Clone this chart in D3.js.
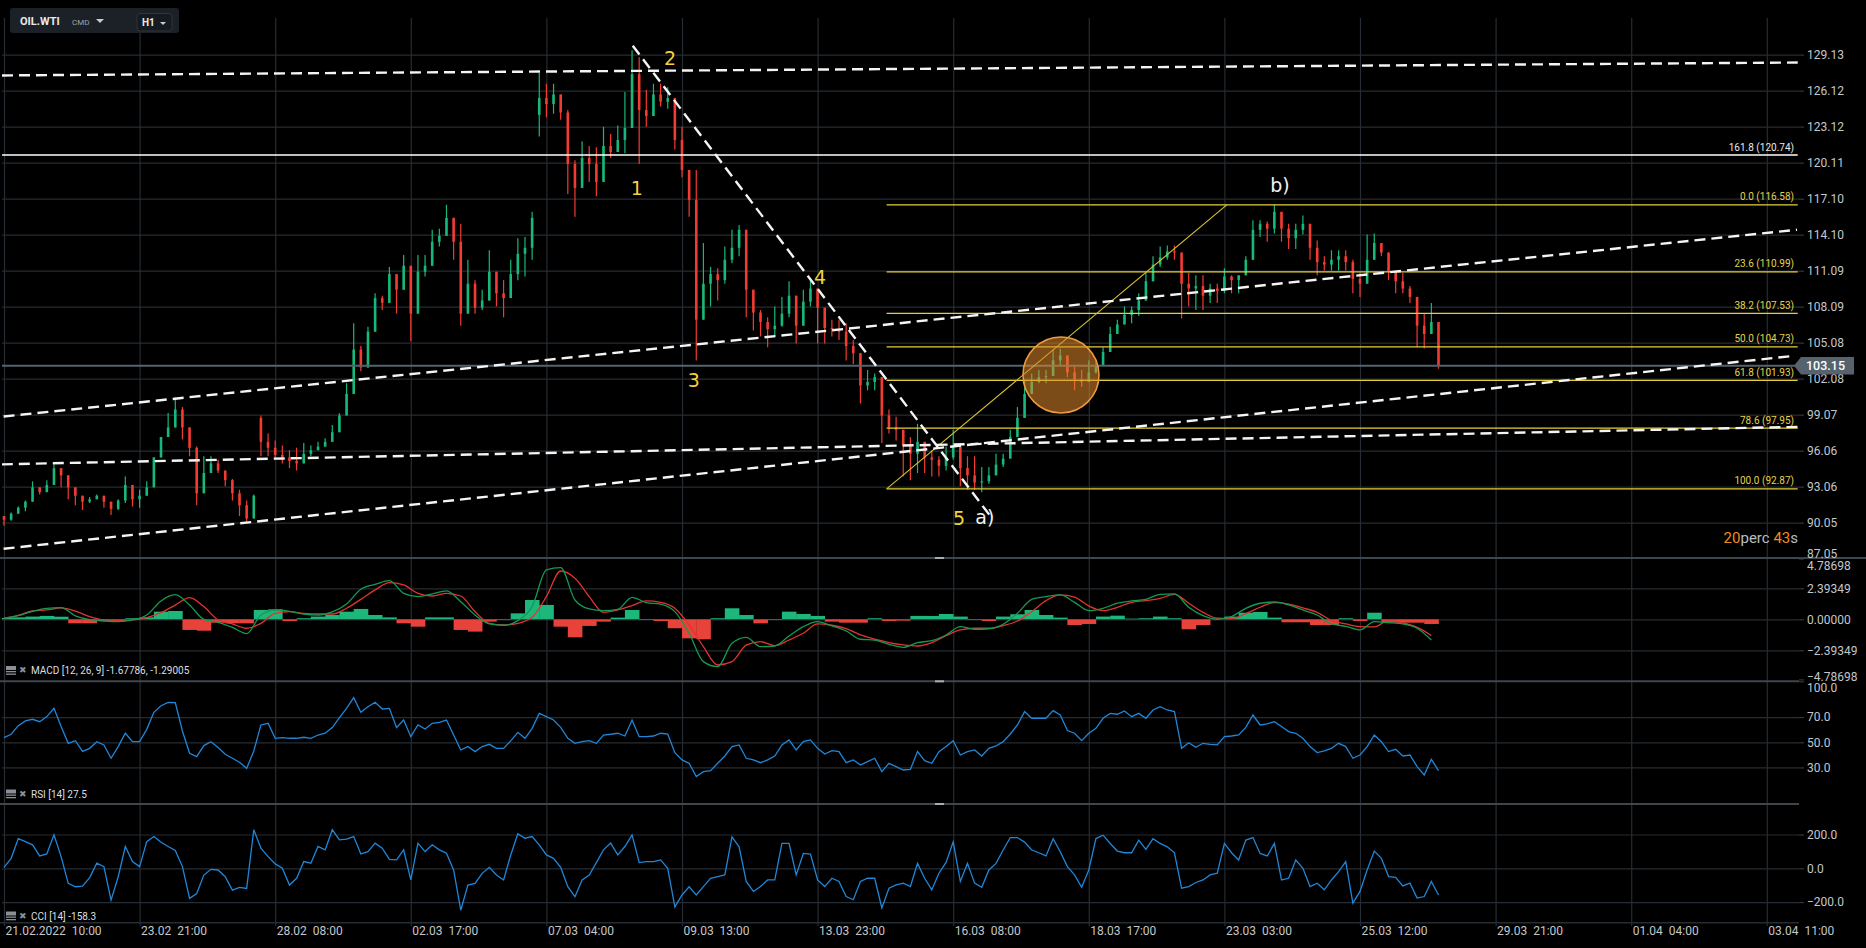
<!DOCTYPE html>
<html><head><meta charset="utf-8">
<script src="https://cdn.jsdelivr.net/npm/d3@7"></script>
<style>
html,body{margin:0;padding:0;background:#000;overflow:hidden}
svg{display:block}
text{font-family:Roboto,"Liberation Sans",sans-serif}
</style></head><body>
<svg id="c" width="1866" height="948"></svg>
<script>
// ---------------- DATA ----------------
const timeLabels = ["21.02.2022  10:00","23.02  21:00","28.02  08:00","02.03  17:00","07.03  04:00","09.03  13:00","13.03  23:00","16.03  08:00","18.03  17:00","23.03  03:00","25.03  12:00","29.03  21:00","01.04  04:00","03.04  11:00"];
const barsPerLabel = 57;
const barsPerCandle = 3;
const barsPerMacd = 6;

const firstOpen = 90.6;
const gapOpens = [[36,98.8],[75,124.1]];
const closes = [
 90.3,90.8,91.3,91.8,93.0,92.6,93.2,94.6,94.0,93.0,
 92.3,91.8,92.0,92.3,91.8,91.2,91.9,93.2,92.0,92.3,
 93.0,95.5,97.2,98.0,99.5,98.0,96.3,92.5,94.2,95.0,
 94.4,93.6,92.5,91.5,90.4,92.3,96.8,96.3,95.7,95.5,
 95.2,95.0,95.8,96.1,96.4,96.8,97.6,99.0,100.8,104.5,
 103.0,106.0,108.8,108.4,110.8,109.5,111.5,107.5,111.0,111.5,
 113.5,114.0,115.5,113.5,107.5,110.0,108.0,108.6,111.0,109.2,
 108.8,110.8,112.5,113.0,115.5,125.5,125.0,125.8,124.3,120.0,
 118.0,120.5,120.0,118.5,121.5,121.0,122.0,123.0,127.5,124.5,
 124.0,125.8,125.2,125.5,122.0,119.5,117.0,107.0,110.0,110.8,
 110.3,112.0,113.0,114.5,109.5,107.6,106.8,106.2,106.5,107.5,
 109.0,106.5,108.5,109.6,108.0,106.3,106.2,106.0,104.8,104.2,
 101.5,101.8,102.2,99.0,98.0,97.8,96.5,95.8,96.8,95.5,
 95.3,94.8,95.5,96.4,94.6,94.0,93.4,93.5,94.0,94.9,
 95.4,97.2,98.8,100.8,101.8,102.2,102.3,103.6,104.0,102.6,
 102.0,101.8,102.6,103.2,104.3,105.8,106.6,107.4,107.8,108.6,
 110.2,111.6,112.2,112.7,112.6,110.0,109.6,109.8,109.0,109.6,
 109.4,110.6,110.3,110.7,112.0,114.5,115.0,114.6,116.0,114.6,
 113.8,114.5,115.0,113.0,111.8,111.6,112.0,112.3,111.8,110.4,
 110.0,112.0,113.4,112.6,111.0,110.2,109.6,108.9,106.5,105.8,
 106.8,103.15];
const highs = [
 90.6,90.9,91.4,91.9,93.5,93.0,93.6,94.9,94.3,93.5,
 92.8,92.0,92.2,92.4,92.1,91.7,92.0,93.9,92.5,92.8,
 93.5,95.5,97.2,99.2,100.5,99.7,97.0,96.4,95.6,95.6,
 95.3,94.4,93.7,92.8,91.9,92.4,99.0,97.5,96.9,96.5,
 96.1,96.3,96.7,96.5,96.8,97.1,98.2,99.2,101.7,106.7,
 104.8,106.4,109.2,109.0,111.4,110.6,112.4,110.3,112.4,112.4,
 114.5,114.6,116.6,114.2,115.0,112.0,110.3,109.5,112.8,110.6,
 110.3,112.0,113.8,113.9,116.0,127.6,126.7,126.7,125.8,124.5,
 120.3,121.9,121.5,121.4,123.1,122.5,123.2,126.0,129.5,128.9,
 126.2,126.7,126.7,126.4,125.1,123.1,119.5,119.5,113.4,111.4,
 111.3,113.1,114.5,114.9,111.3,109.5,107.8,107.2,108.1,108.9,
 110.2,107.8,109.5,110.3,109.5,107.2,107.0,107.0,106.7,105.3,
 103.1,102.8,102.5,101.4,99.5,98.9,97.8,97.2,98.3,96.1,
 96.1,95.6,96.4,97.8,96.7,95.6,95.6,94.7,94.7,95.8,
 95.8,97.8,99.7,102.0,102.5,102.8,102.8,104.5,104.6,103.6,
 103.1,102.8,103.6,103.6,104.7,106.4,107.0,108.1,108.1,109.2,
 110.9,112.3,113.1,113.2,113.2,111.4,110.9,110.7,110.7,110.0,
 110.0,111.3,110.7,110.7,112.3,115.3,115.3,115.2,116.6,115.2,
 115.0,115.0,115.7,114.5,113.6,112.3,112.8,112.8,112.8,112.0,
 110.9,114.1,114.2,113.1,112.0,110.9,110.9,109.8,108.4,107.5,
 108.4,105.0];
const lows = [
 89.8,90.2,90.8,91.0,92.2,92.4,92.8,93.5,93.0,92.0,
 91.5,91.1,91.7,92.0,91.3,90.7,91.1,91.7,91.4,91.3,
 92.6,94.2,96.1,98.1,98.6,97.0,95.6,91.5,93.6,94.4,
 94.2,93.1,91.9,90.6,90.0,90.6,95.6,95.6,95.3,95.0,
 94.6,94.4,95.6,95.6,96.1,96.4,97.1,98.1,99.5,103.1,
 102.7,105.3,107.5,107.8,109.8,107.5,110.3,105.2,110.0,110.6,
 112.0,113.1,114.2,112.0,106.5,109.5,107.5,107.8,109.2,108.1,
 107.2,109.5,110.3,110.6,112.0,122.3,123.9,124.2,123.7,117.5,
 115.6,118.7,118.5,117.3,120.3,120.5,121.0,120.9,125.6,120.0,
 123.1,124.4,124.8,124.6,121.2,118.9,115.6,103.6,107.2,108.1,
 108.6,110.0,111.7,112.3,107.2,106.1,105.6,104.7,105.6,106.4,
 107.2,105.0,106.7,108.1,105.0,105.0,105.6,105.3,103.6,103.3,
 100.0,101.1,101.1,96.7,97.5,96.9,93.9,93.6,94.2,94.2,
 93.9,93.9,94.4,95.3,93.1,92.8,92.8,92.6,93.3,94.4,
 94.7,96.4,97.5,99.5,100.8,101.7,101.7,102.5,103.1,102.2,
 101.1,101.4,102.2,102.5,103.3,105.3,106.1,106.7,106.7,107.3,
 109.2,110.9,111.4,112.0,112.0,107.1,108.1,107.8,107.8,108.4,
 108.4,109.2,109.2,109.2,110.9,112.8,113.9,113.5,114.2,113.5,
 112.9,112.9,114.1,112.0,110.7,111.1,111.1,111.1,111.1,109.2,
 108.9,110.9,112.3,112.3,110.3,109.2,109.2,108.4,104.7,104.6,
 105.8,102.9];

const macdLine = [
 0.08,0.28,0.62,0.85,0.9,0.26,-0.03,-0.13,-0.18,-0.05,
 0.33,1.42,1.9,1.1,0,-0.23,-0.62,-1.1,0.33,0.72,
 0.62,0.41,0.33,0.57,1.18,2.32,2.7,2.99,2.0,1.75,
 1.96,2.19,1.36,0.33,-0.36,-0.46,-0.1,0.98,3.81,3.99,
 1.49,0.8,0.67,0.77,1.7,1.29,1.18,0.59,-1.08,-3.27,
 -3.66,-1.85,-1.39,-2.11,-2.06,-1.29,-0.57,-0.18,-0.51,-0.9,
 -1.54,-1.6,-1.93,-2.16,-1.8,-1.65,-1.21,-0.57,-0.77,-0.73,
 -0.38,0.46,1.54,1.75,1.88,1.31,0.67,0.85,1.24,1.42,
 1.54,1.93,1.96,0.93,0.28,0,0.21,0.85,1.24,1.34,
 1.11,0.72,0.33,-0.36,-0.54,-0.82,-0.18,-0.26,-0.36,-0.69,
 -1.6];
const signalLine = [
 0.08,0.31,0.64,0.72,0.88,0.64,0.21,-0.05,-0.1,-0.05,
 0.13,0.51,1.1,1.67,0.98,-0.05,-0.36,-0.69,-0.31,0.46,
 0.59,0.46,0.41,0.41,0.85,1.54,2.27,2.83,2.65,2.0,
 1.8,2.0,1.8,0.59,-0.31,-0.44,-0.31,0.15,1.75,3.73,
 3.17,1.75,0.54,0.72,1.06,1.42,1.31,0.85,-0.44,-2.11,
 -3.53,-3.27,-2.0,-1.72,-2.03,-1.6,-1.08,-0.36,-0.46,-0.72,
 -1.21,-1.54,-1.8,-1.98,-2.06,-1.8,-1.26,-0.82,-0.69,-0.69,
 -0.49,-0.13,0.59,1.44,1.88,1.72,1.03,0.67,0.93,1.31,
 1.44,1.62,1.93,1.24,0.54,0.08,0.05,0.44,0.93,1.29,
 1.18,0.88,0.54,-0.1,-0.36,-0.57,-0.59,-0.1,-0.28,-0.62,
 -1.25];
const macdHist = [
 0.1,0.15,0.21,0.26,0.2,-0.31,-0.31,-0.13,-0.13,0.08,
 0.15,0.59,0.64,-0.82,-0.88,-0.26,-0.31,-0.31,0.72,0.77,
 -0.13,0.08,0.21,0.33,0.59,0.8,0.33,0.15,-0.31,-0.57,
 0.15,0.15,-0.82,-0.95,-0.18,-0.05,0.46,1.49,1.11,-0.57,
 -1.39,-0.51,-0.18,0.13,0.72,-0.05,-0.13,-0.69,-1.47,-1.54,
 0.08,0.85,0.33,-0.31,-0.05,0.59,0.41,0.26,-0.18,-0.26,
 -0.26,0.08,-0.13,-0.1,0.26,0.26,0.41,0.21,-0.05,-0.13,
 0.21,0.39,0.72,0.33,0.13,-0.44,-0.36,0.21,0.28,0.05,
 0.08,0.21,0.08,-0.77,-0.44,0,0.21,0.51,0.57,0.13,
 -0.23,-0.23,-0.44,-0.44,0.08,-0.13,0.51,-0.26,-0.26,-0.26,
 -0.36];

const rsiValues = [
 53.7,56.4,63.2,67.0,68.3,66.4,70.4,77.0,62.5,49.2,
 51.3,42.8,45.2,50.5,47.9,37.3,46.6,57.2,50.5,50.5,
 60.3,73.8,79.1,81.8,81.5,59.0,41.3,38.6,47.4,50.5,
 45.8,40.5,37.3,34.1,29.3,43.1,63.8,65.1,53.2,53.7,
 53.2,53.2,54.0,53.2,55.8,57.2,61.7,69.6,77.0,85.5,
 73.8,78.3,81.8,76.5,77.0,61.7,67.7,54.5,63.8,60.6,
 65.1,65.9,67.7,55.8,43.9,46.6,42.6,46.6,48.4,45.2,
 45.2,51.1,57.9,53.2,61.1,73.0,70.4,67.7,61.9,53.2,
 49.2,50.5,51.3,49.2,55.8,56.4,57.2,55.0,67.7,54.5,
 54.5,55.0,57.2,56.6,41.8,36.0,33.3,22.7,26.7,27.5,
 33.3,39.1,46.6,47.9,37.3,36.0,33.8,36.0,39.1,47.9,
 51.9,43.9,50.5,51.9,45.2,40.7,43.4,42.6,33.8,36.0,
 32.0,34.6,37.3,26.7,33.3,30.7,28.0,28.5,42.6,35.4,
 33.3,42.6,46.6,51.3,39.9,42.6,43.9,39.1,45.2,47.1,
 50.5,56.6,63.8,74.4,69.1,69.1,69.1,75.2,71.7,59.3,
 57.2,51.3,57.2,61.1,69.1,73.0,72.3,74.9,70.4,73.0,
 69.1,75.7,78.3,75.7,74.4,45.2,49.7,46.0,49.2,48.4,
 47.9,54.5,55.0,55.8,61.9,71.7,63.8,64.6,66.4,62.5,
 58.5,57.2,53.2,46.6,41.8,43.1,45.2,49.2,46.6,37.3,
 39.9,46.6,55.8,50.5,42.6,44.4,39.1,39.9,30.7,24.0,
 36.5,27.5];

const cciValues = [
 6,59,176,158,139,73,85,198,69,-89,
 -109,-105,-55,30,10,-188,-50,129,40,10,
 158,188,154,129,105,10,-178,-149,-40,-6,
 -10,-50,-129,-113,-119,228,119,69,26,0,
 -99,-59,40,30,129,109,228,168,172,188,
 85,99,149,119,53,50,109,-69,149,99,
 139,109,89,-10,-248,-99,-89,-30,6,-40,
 -69,79,204,178,188,139,79,59,6,-109,
 -168,-69,-40,34,109,149,79,129,198,34,
 40,40,50,0,-228,-158,-109,-158,-108,-59,
 -49,-39,186,127,-78,-137,-108,-69,-69,147,
 147,-39,88,84,-69,-108,-59,-78,-167,-186,
 -78,-59,-59,-235,-118,-98,-88,-108,29,-59,
 -127,-29,35,157,-78,29,-88,-112,-10,29,
 108,182,182,155,108,92,73,175,98,10,
 -39,-112,-10,176,196,147,102,92,92,167,
 112,175,147,127,92,-118,-108,-84,-69,-39,
 -29,147,92,49,167,182,88,73,147,-69,
 -59,49,0,-108,-88,-127,-69,-20,39,-206,
 -137,-10,102,59,-49,-53,-104,-88,-176,-167,
 -78,-158.3];

const priceTicks = [129.13,126.12,123.12,120.11,117.10,114.10,111.09,108.09,105.08,102.08,99.07,96.06,93.06,90.05,87.05];
const macdTicks = [4.78698,2.39349,0,-2.39349,-4.78698];
const rsiTicks = [100,70,50,30];
const cciTicks = [200,0,-200];

const fibLevels = [[0.0,116.58],[23.6,110.99],[38.2,107.53],[50.0,104.73],[61.8,101.93],[78.6,97.95],[100.0,92.87]];
const fibExtension = [161.8,120.74];
const fibStartBar = 371;
const fibDiagonal = [[371,92.87],[514,116.58]];
const lastPrice = 103.15;
const trendLines = [
 [[-0.84,127.39],[754,128.47]],
 [[-0.17,98.91],[753.7,114.51]],
 [[-0.92,94.92],[754,98.05]],
 [[-0.17,87.87],[751.9,103.97]],
 [[264.3,129.87],[415.3,90.42]]
];
const waveLabels = [
 {t:"1",bar:266,p:117.97,kind:"wave"},
 {t:"2",bar:280,p:128.82,kind:"wave"},
 {t:"3",bar:290,p:101.96,kind:"wave"},
 {t:"4",bar:343,p:110.59,kind:"wave"},
 {t:"5",bar:401.5,p:90.42,kind:"wave"},
 {t:"a)",bar:412.3,p:90.55,kind:"corr"},
 {t:"b)",bar:536.4,p:118.24,kind:"corr"}
];
const highlight = {bar:444.3, p:102.38};
const macdTitle = "MACD [12, 26, 9] -1.67786, -1.29005";
const rsiTitle = "RSI [14] 27.5";
const cciTitle = "CCI [14] -158.3";

// ---------------- LAYOUT ----------------
const W = 1866, H = 948;
const L = 2, R = 1799;
const TOP = 18;
const main = {t:TOP, b:558.6};
const pMacd = {t:558, b:681.3};
const pRsi = {t:681.3, b:804};
const pCci = {t:804, b:922.7};

const C = {
  grid:"#262c33", sep:"#3e464e", axisText:"#c3c7ca",
  up:"#17b97a", down:"#f23c32",
  macd:"#139a55", signal:"#e0352c", histUp:"#1db77c", histDn:"#e8433b",
  osc:"#1f86d8", fib:"#e5d03a", fibText:"#e6d24a", wave:"#f3d23a"
};

const svg = d3.select("#c");
svg.append("rect").attr("width",W).attr("height",H).attr("fill","#000");

const x = d3.scaleLinear().domain([0, 13*barsPerLabel]).range([4, 1766.8]);
const yP = d3.scaleLinear().domain([87.05,129.13]).range([558.6,54.6]);
const yM = d3.scaleLinear().domain([-4.78698,4.78698]).range([681.3,557.3]);
const yR = d3.scaleLinear().domain([0,100]).range([805.2,679.4]);
const yC = d3.scaleLinear().domain([-200,200]).range([902.1,834.5]);

const defs = svg.append("defs");
function clip(id, p){ defs.append("clipPath").attr("id",id).append("rect")
  .attr("x",L).attr("y",p.t).attr("width",R-L).attr("height",p.b-p.t); }
clip("cMain",main); clip("cMacd",pMacd); clip("cRsi",pRsi); clip("cCci",pCci);

// vertical grid
const vg = svg.append("g").attr("transform","translate(0,926)")
  .call(d3.axisBottom(x).tickValues(d3.range(14).map(k=>k*barsPerLabel)).tickSize(-(926-TOP)).tickFormat(""));
vg.select(".domain").remove();
vg.selectAll("line").attr("stroke",C.grid).attr("stroke-width",1.2);

// horizontal grids
function hgrid(scale, ticks){
  const g = svg.append("g").attr("transform",`translate(${R},0)`)
    .call(d3.axisLeft(scale).tickValues(ticks).tickSize(R-L).tickFormat(""));
  g.select(".domain").remove();
  g.selectAll("line").attr("stroke",C.grid).attr("stroke-width",1.2);
}
hgrid(yP, priceTicks.slice(0,-1));
hgrid(yM, [2.39349,0,-2.39349]);
hgrid(yR, [70,50,30]);
hgrid(yC, [200,0,-200]);

// separators
svg.append("line").attr("x1",0).attr("x2",W).attr("y1",558).attr("y2",558).attr("stroke",C.sep).attr("stroke-width",2);
[681.3,804].forEach(v=>svg.append("line").attr("x1",0).attr("x2",R).attr("y1",v).attr("y2",v).attr("stroke",C.sep).attr("stroke-width",2));
svg.append("line").attr("x1",0).attr("x2",R).attr("y1",922.7).attr("y2",922.7).attr("stroke",C.grid).attr("stroke-width",1.5);
[558,681.3,804].forEach(v=>svg.append("rect").attr("x",935).attr("y",v-1).attr("width",9).attr("height",2).attr("fill","#a9adb1"));

// right axes
function rAxis(scale, ticks, fmt, adjust){
  const g = svg.append("g").attr("transform",`translate(${R},0)`)
    .call(d3.axisRight(scale).tickValues(ticks).tickFormat(fmt).tickSize(5).tickPadding(3));
  g.select(".domain").remove();
  g.selectAll("line").attr("stroke","#3a4148");
  g.selectAll("text").attr("fill",C.axisText).style("font-size","12px");
  if(adjust) g.selectAll(".tick").each(function(d){ const a = adjust(d); if(a) d3.select(this).select("text").attr("dy",a); });
}
rAxis(yP, priceTicks, d=>d.toFixed(2), d=> d===87.05 ? "-0.12em" : null);
rAxis(yM, macdTicks, d3.format(".5f"), d=> d>4 ? "1.0em" : (d<-4 ? "-0.05em": null));
rAxis(yR, rsiTicks, d3.format(".1f"), d=> d===100 ? "1.0em" : null);
rAxis(yC, cciTicks, d3.format(".1f"));

// x axis labels
const xa = svg.append("g").attr("transform","translate(0,923)")
  .call(d3.axisBottom(x).tickValues(d3.range(14).map(k=>k*barsPerLabel)).tickFormat((d,k)=>timeLabels[k]).tickSize(0).tickPadding(3));
xa.select(".domain").remove();
xa.selectAll("text").attr("text-anchor","start").attr("dx","1").attr("fill",C.axisText).style("font-size","12px").style("white-space","pre");

// ---------------- MAIN PANEL ----------------
const gm = svg.append("g").attr("clip-path","url(#cMain)");
const candles = closes.map((c,i)=>{
  let o = i===0 ? firstOpen : closes[i-1];
  gapOpens.forEach(([k,v])=>{ if(k===i) o = v; });
  const h = Math.max(highs[i],o,c), l = Math.min(lows[i],o,c);
  return {i,o,c,h,l,up:c>=o};
});
const cx = d=>x(d.i*barsPerCandle);
gm.selectAll("line.wick").data(candles).join("line").attr("class","wick")
  .attr("x1",cx).attr("x2",cx).attr("y1",d=>yP(d.h)).attr("y2",d=>yP(d.l))
  .attr("stroke",d=>d.up?C.up:C.down).attr("stroke-width",1.2);
gm.selectAll("rect.body").data(candles).join("rect").attr("class","body")
  .attr("x",d=>cx(d)-1.3).attr("width",2.6)
  .attr("y",d=>yP(Math.max(d.o,d.c))).attr("height",d=>Math.max(1,Math.abs(yP(d.o)-yP(d.c))))
  .attr("fill",d=>d.up?C.up:C.down);

// last price line
gm.append("line").attr("x1",0).attr("x2",R).attr("y1",yP(lastPrice)).attr("y2",yP(lastPrice)).attr("stroke","#56636e").attr("stroke-width",2);

// fib extension (white)
gm.append("line").attr("x1",L).attr("x2",1797.7).attr("y1",yP(fibExtension[1])).attr("y2",yP(fibExtension[1])).attr("stroke","#ffffff").attr("stroke-width",1.5);
// fib levels
gm.selectAll("line.fib").data(fibLevels).join("line").attr("class","fib")
  .attr("x1",x(fibStartBar)).attr("x2",1797.7).attr("y1",d=>yP(d[1])).attr("y2",d=>yP(d[1]))
  .attr("stroke",C.fib).attr("stroke-width",1.3);
gm.append("line").attr("x1",x(fibDiagonal[0][0])).attr("y1",yP(fibDiagonal[0][1]))
  .attr("x2",x(fibDiagonal[1][0])).attr("y2",yP(fibDiagonal[1][1])).attr("stroke","#d8c22e").attr("stroke-width",1.1);

// trend lines
gm.selectAll("line.trend").data(trendLines).join("line").attr("class","trend")
  .attr("x1",d=>x(d[0][0])).attr("y1",d=>yP(d[0][1])).attr("x2",d=>x(d[1][0])).attr("y2",d=>yP(d[1][1]))
  .attr("stroke","#f4f4f4").attr("stroke-width",2.4).attr("stroke-dasharray","11,6");

// highlight circle
gm.append("circle").attr("cx",x(highlight.bar)).attr("cy",yP(highlight.p)).attr("r",38)
  .attr("fill","#e08a2c").attr("fill-opacity",0.55).attr("stroke","#f09a40").attr("stroke-width",1.5);

// fib labels
const fl = svg.append("g").style("font-size","10px").attr("text-anchor","end");
fibLevels.forEach(d=>fl.append("text").attr("x",1794).attr("y",yP(d[1])-4.5).attr("fill",C.fibText)
  .text(`${d[0].toFixed(1)} (${d[1].toFixed(2)})`));
fl.append("text").attr("x",1794).attr("y",yP(fibExtension[1])-4.5).attr("fill","#e8e8e8")
  .text(`${fibExtension[0].toFixed(1)} (${fibExtension[1].toFixed(2)})`);

// wave labels
svg.append("g").selectAll("text").data(waveLabels).join("text")
  .attr("x",d=>x(d.bar)).attr("y",d=>yP(d.p)).attr("text-anchor","middle").attr("dominant-baseline","central")
  .style("font-family","'DejaVu Sans',sans-serif").style("font-size","19px")
  .attr("fill",d=>d.kind==="wave"?C.wave:"#f2f2f2").text(d=>d.t);

// last price tag
const yl = yP(lastPrice);
svg.append("polygon").attr("points",`1794,${yl} 1801,${yl-8.8} 1854,${yl-8.8} 1854,${yl+8.8} 1801,${yl+8.8}`).attr("fill","#56636e");
svg.append("text").attr("x",1806).attr("y",yl).attr("dominant-baseline","central").attr("fill","#ffffff")
  .style("font-size","12.5px").style("font-weight","500").text(lastPrice.toFixed(2));

// countdown text
const cd = svg.append("text").attr("x",1798).attr("y",543).attr("text-anchor","end").style("font-size","15px");
cd.append("tspan").attr("fill","#f08c1e").text("20");
cd.append("tspan").attr("fill","#b9bdc0").text("perc ");
cd.append("tspan").attr("fill","#f08c1e").text("43");
cd.append("tspan").attr("fill","#b9bdc0").text("s");

// ---------------- MACD ----------------
const gM = svg.append("g").attr("clip-path","url(#cMacd)");
const mx = j=>x(j*barsPerMacd);
const hw = x(barsPerMacd)-x(0);
gM.selectAll("rect").data(macdHist).join("rect")
  .attr("x",(d,j)=>mx(j)-hw/2).attr("width",hw+0.3)
  .attr("y",d=>d>=0?yM(d):yM(0)).attr("height",d=>Math.abs(yM(d)-yM(0)))
  .attr("fill",d=>d>=0?C.histUp:C.histDn);
const mLine = d3.line().x((d,j)=>mx(j)).y(d=>yM(d)).curve(d3.curveMonotoneX);
gM.append("path").attr("d",mLine(signalLine)).attr("fill","none").attr("stroke",C.signal).attr("stroke-width",1.3);
gM.append("path").attr("d",mLine(macdLine)).attr("fill","none").attr("stroke",C.macd).attr("stroke-width",1.3);

// ---------------- RSI / CCI ----------------
const oLine = sc => d3.line().x((d,i)=>x(i*barsPerCandle)).y(d=>sc(d));
svg.append("g").attr("clip-path","url(#cRsi)").append("path").attr("d",oLine(yR)(rsiValues))
  .attr("fill","none").attr("stroke",C.osc).attr("stroke-width",1.3);
svg.append("g").attr("clip-path","url(#cCci)").append("path").attr("d",oLine(yC)(cciValues))
  .attr("fill","none").attr("stroke",C.osc).attr("stroke-width",1.3);

// indicator titles
function title(y, txt){
  const g = svg.append("g");
  g.append("rect").attr("x",6).attr("y",y-4).attr("width",10).attr("height",4).attr("fill","#8a9096");
  g.append("rect").attr("x",6).attr("y",y+1).attr("width",10).attr("height",1.3).attr("fill","#8a9096");
  g.append("rect").attr("x",6).attr("y",y+3.5).attr("width",10).attr("height",1.3).attr("fill","#8a9096");
  g.append("text").attr("x",19).attr("y",y).attr("dominant-baseline","central").attr("fill","#8a9096")
    .style("font-family","'DejaVu Sans',sans-serif").style("font-size","9px").text("\u2716");
  g.append("text").attr("x",31).attr("y",y+0.5).attr("dominant-baseline","central").attr("fill","#dcdfe2")
    .style("font-size","10px").text(txt);
}
title(670, macdTitle);
title(793.5, rsiTitle);
title(915.5, cciTitle);

// ---------------- HEADER ----------------
const hd = svg.append("g");
hd.append("rect").attr("x",10).attr("y",8).attr("width",169).attr("height",25).attr("rx",3).attr("fill","#1b2127");
hd.append("text").attr("x",20).attr("y",25).attr("fill","#e8eaec").style("font-size","11px").style("font-weight","700").text("OIL.WTI");
hd.append("text").attr("x",72).attr("y",25).attr("fill","#9aa3ab").style("font-size","8px").text("CMD");
hd.append("path").attr("d","M96,19 L104,19 L100,23 Z").attr("fill","#c9cdd0");
hd.append("rect").attr("x",137).attr("y",13.5).attr("width",35).attr("height",17.5).attr("rx",3).attr("fill","#161b20").attr("stroke","#2d353d");
hd.append("text").attr("x",142).attr("y",25.5).attr("fill","#e8eaec").style("font-size","10px").style("font-weight","700").text("H1");
hd.append("path").attr("d","M160,22 L166,22 L163,25 Z").attr("fill","#c9cdd0");
</script>
</body></html>
